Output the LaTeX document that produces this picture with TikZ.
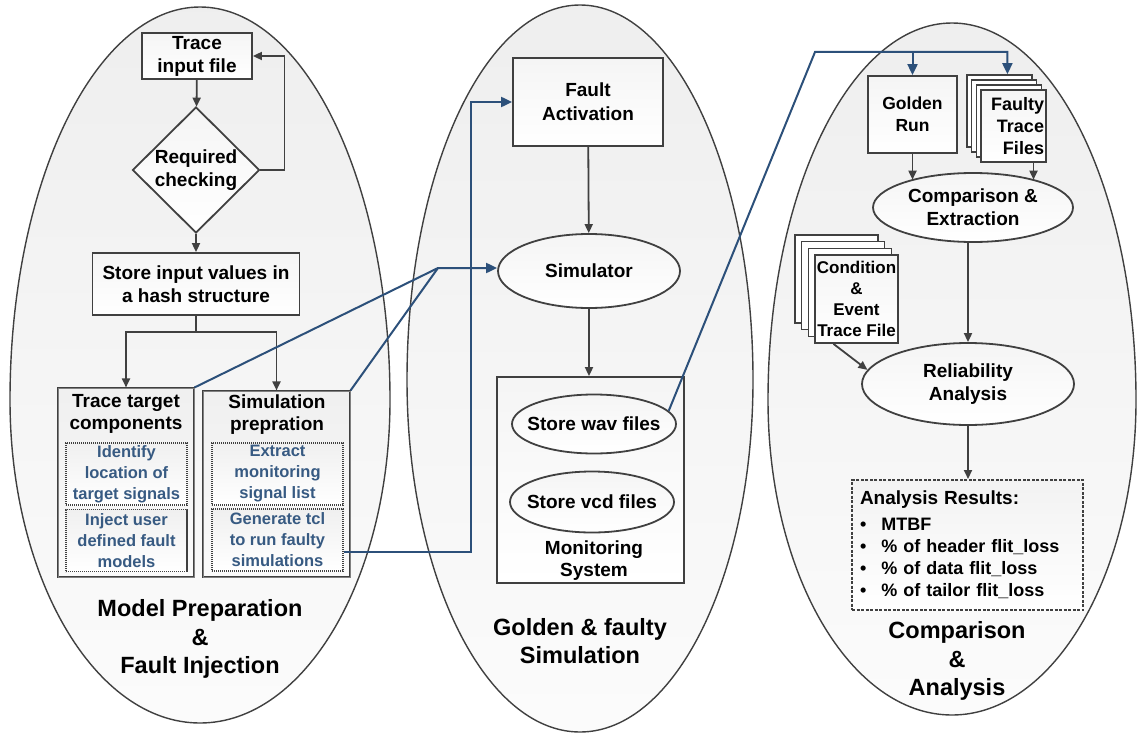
\documentclass[tikz,border=0pt]{standalone}
\usepackage{fontspec}
\setmainfont{Liberation Sans}
\usetikzlibrary{shapes.geometric,arrows.meta}
\definecolor{linegray}{RGB}{64,64,64}
\definecolor{linkblue}{RGB}{44,80,122}
\definecolor{textblue}{RGB}{55,90,130}
\begin{document}
\begin{tikzpicture}[x = 1pt, y = 1pt, yscale = -1,
  egg/.style = {draw = linegray, line width = 1.4pt, top color = gray!13, bottom color = gray!3},
  box/.style = {draw = linegray, line width = 1.8pt, top color = gray!8, bottom color = white,
    align = center, font = \fontsize{19}{23}\selectfont\bfseries, inner sep = 2pt},
  oval/.style = {box, ellipse, inner xsep = -15pt, inner ysep = 0pt},
  choice/.style = {box, diamond, aspect = 1, inner sep = 0pt, minimum width = 127pt, minimum height = 126pt},
  group/.style = {draw = linegray, double = gray, double distance = 0.7pt, line width = 1.1pt,
    top color = gray!12, bottom color = gray!4},
  sub/.style = {draw = linegray, dash pattern = on 1.2pt off 0.8pt, line width = 1.3pt,
    top color = gray!12, bottom color = white, text = textblue, align = center,
    font = \fontsize{16.5}{21}\selectfont\bfseries, minimum width = 121pt, minimum height = 62pt, inner sep = 1pt},
  stackbox/.style = {draw = linegray, line width = 1.6pt, fill = white, inner sep = 2pt},
  resbox/.style = {draw = linegray, dash pattern = on 3pt off 1.5pt, line width = 2pt,
    top color = gray!10, bottom color = white, font = \fontsize{18}{22}\selectfont\bfseries},
  txt/.style = {align = center, font = \fontsize{19}{22}\selectfont\bfseries, inner sep = 0pt},
  title/.style = {align = center, font = \fontsize{23.5}{28.5}\selectfont\bfseries, inner sep = 0pt},
  conn/.style = {draw = linegray, line width = 1.8pt},
  arr/.style = {conn, -{Triangle[length = 9pt, width = 8pt]}},
  link/.style = {draw = linkblue, line width = 2pt},
  linkarr/.style = {link, -{Triangle[length = 11pt, width = 10pt]}}
]
\useasboundingbox (0,0) rectangle (1139,733);

% the three stages
\draw[egg] (390,400) arc (0:-180:190 and 393) arc (180:0:190 and 323) -- cycle;
\draw[egg] (753,380) arc (0:-180:173 and 375) arc (180:0:173 and 352) -- cycle;
\draw[egg] (1136,400) arc (0:-180:184 and 377) arc (180:0:184 and 315) -- cycle;

% model preparation
\node[box, minimum width = 110pt, minimum height = 46pt] (tif) at (197,56) {Trace\\input file};
\node[choice] (chk) at (196,170) {Required\\checking};
\node[box, minimum width = 207pt, minimum height = 62pt] (sto) at (196,284) {Store input values in\\a hash structure};
\node[group, minimum width = 136pt, minimum height = 189pt] (ttc) at (126,482.5) {};
\node[txt] (ttct) at (126,413.5) {Trace target\\components};
\node[sub] (idt) at (126.5,474) {Identify\\location of\\target signals};
\node[sub] (inj) at (126.5,540.5) {Inject user\\defined fault\\models};
\node[group, minimum width = 147pt, minimum height = 186pt] (spp) at (276.5,484) {};
\node[txt] (sppt) at (277,414.5) {Simulation\\prepration};
\node[sub, minimum width = 131pt] (ext) at (277.5,474) {Extract\\monitoring\\signal list};
\node[sub, minimum width = 131pt] (gen) at (277.5,540) {Generate tcl\\to run faulty\\simulations};
\node[title] (lbmp) at (200,639) {Model Preparation\\\&\\Fault Injection};

% simulation
\node[box, minimum width = 150pt, minimum height = 88pt, font = \fontsize{19}{24}\selectfont\bfseries] (fa) at (588,102) {Fault\\Activation};
\node[oval, minimum width = 182pt, minimum height = 74pt] (sim) at (589,271) {Simulator};
\node[box, minimum width = 187pt, minimum height = 206pt] (mon) at (590.5,480) {};
\node[oval, minimum width = 164pt, minimum height = 59pt] (wav) at (594,424) {Store wav files};
\node[oval, minimum width = 164pt, minimum height = 61pt] (vcd) at (592,502) {Store vcd files};
\node[txt] (mst) at (594,561) {Monitoring\\System};
\node[title] (lbgs) at (580,641) {Golden \& faulty\\Simulation};

% comparison
\node[box, minimum width = 89pt, minimum height = 77pt, font = \fontsize{17.5}{22}\selectfont\bfseries] (gr) at (912.5,114.5) {Golden\\Run};
\foreach \i in {3,2,1}
  \node[stackbox, minimum width = 65pt, minimum height = 72pt] (ft\i) at ({1013.5-4.7*\i},{126-5*\i}) {};
\node[box, minimum width = 65pt, minimum height = 72pt, text width = 61pt, align = right,
  font = \fontsize{18}{22}\selectfont\bfseries] (ft0) at (1013.5,126) {Faulty\\Trace\\Files};
\node[oval, minimum width = 200pt, minimum height = 69pt] (ce) at (973,207.5) {Comparison \&\\Extraction};
\foreach \i in {3,2,1}
  \node[stackbox, minimum width = 83pt, minimum height = 88pt] (cd\i) at ({856.5-6.7*\i},{299-6.7*\i}) {};
\node[box, minimum width = 83pt, minimum height = 88pt, font = \fontsize{17}{21}\selectfont\bfseries] (cd0) at (856.5,299) {Condition\\\&\\Event\\Trace File};
\node[oval, minimum width = 212pt, minimum height = 82pt] (rel) at (968,384) {Reliability\\Analysis};
\node[resbox, minimum width = 231pt, minimum height = 130pt, text width = 215pt, inner xsep = 8pt, align = left] (res) at (967.5,545)
  {{\fontsize{19}{22}\selectfont Analysis Results:}\\[4pt]
   \textbullet\hspace{15pt}MTBF\\
   \textbullet\hspace{15pt}\% of header flit\_loss\\
   \textbullet\hspace{15pt}\% of data flit\_loss\\
   \textbullet\hspace{15pt}\% of tailor flit\_loss};
\node[title] (lbca) at (957,661) {Comparison\\\&\\Analysis};

% flow inside the stages
\draw[arr] (tif) -- (chk);
\draw[arr] (chk.east) -- ++(24,0) |- (tif.east);
\draw[arr] (chk) -- (sto);
\draw[conn] (sto.south) -- ++(0,16) coordinate (spl);
\draw[arr] (spl) -| (ttc.north);
\draw[arr] (spl) -| (spp.north);
\draw[arr] (fa) -- (sim);
\draw[arr] (sim.south) -- (sim.south |- mon.north);
\draw[arr] (gr.south) -- (gr.south |- ce.156);
\draw[arr] ([xshift = 20pt]ft0.south) -- ([xshift = 20pt]ft0.south |- ce.24);
\draw[arr] (ce.south -| rel.north) -- (rel.north);
\draw[arr] ([xshift = -23pt]cd0.south) -- (rel.172);
\draw[arr] (rel.south) -- (rel.south |- res.north);

% links between the stages
\coordinate (jn) at (438,268);
\coordinate (bnd) at (471,0);
\coordinate (pk) at (815,52);
\draw[link] (ttc.north east) -- (jn);
\draw[linkarr] (spp.north east) -- (jn) -- (jn -| sim.west);
\draw[linkarr] ([yshift = 12pt]gen.east) -| (bnd |- fa.west) -- (fa.west);
\draw[linkarr] (wav.10) -- (pk) -| ([xshift = 8pt]ft3.north);
\draw[linkarr] (pk -| gr.north) -- (gr.north);
\end{tikzpicture}
\end{document}
